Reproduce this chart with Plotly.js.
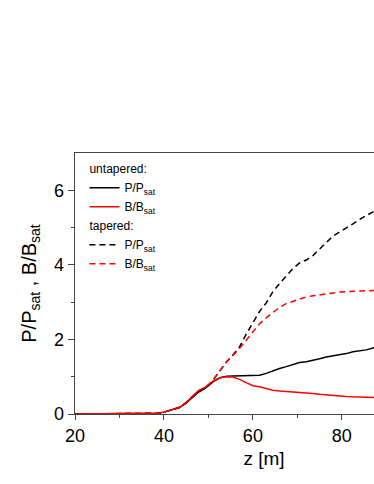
<!DOCTYPE html>
<html>
<head>
<meta charset="utf-8">
<script src="https://cdn.plot.ly/plotly-3.0.1.min.js"></script>
<style>
  html, body { margin: 0; padding: 0; overflow: hidden; background: #fff; }
  #chart { width: 470px; height: 484px; }
</style>
</head>
<body>
<div id="chart"></div>
<script>
// z positions along the undulator [m]
var z = [20, 30, 35, 37, 38.5, 40, 42, 43.6, 45, 46.6, 47.7, 49.2, 50, 51.1, 52.6, 54.1, 55.5, 57, 58.5, 60,
  61.5, 63, 64.5, 66, 67.5, 69, 70.5, 72, 73.5, 75, 76.5, 78, 79.5, 81, 82.5, 84, 85.5, 87, 88.5];

// untapered
var pUntapered = [0, 0, 0, 0.005, 0.02, 0.05, 0.12, 0.18, 0.30, 0.47, 0.58, 0.68, 0.76, 0.87, 0.97, 1.01, 1.02, 1.02, 1.03, 1.03,
  1.04, 1.09, 1.16, 1.22, 1.27, 1.33, 1.38, 1.40, 1.43, 1.48, 1.53, 1.56, 1.58, 1.62, 1.67, 1.69, 1.72, 1.77, 1.80];
var bUntapered = [0, 0, 0, 0.005, 0.02, 0.05, 0.12, 0.18, 0.31, 0.50, 0.62, 0.71, 0.78, 0.89, 0.97, 1.00, 0.99, 0.93, 0.84, 0.76,
  0.73, 0.68, 0.64, 0.62, 0.61, 0.59, 0.57, 0.56, 0.55, 0.53, 0.51, 0.49, 0.48, 0.47, 0.46, 0.45, 0.44, 0.44, 0.44];

// tapered
var pTapered = [0, 0, 0, 0.005, 0.02, 0.05, 0.12, 0.18, 0.30, 0.48, 0.60, 0.70, 0.77, 0.92, 1.15, 1.40, 1.58, 1.80, 2.14, 2.45,
  2.75, 2.98, 3.28, 3.50, 3.70, 3.90, 4.05, 4.13, 4.25, 4.43, 4.60, 4.77, 4.88, 4.98, 5.10, 5.22, 5.33, 5.42, 5.48];
var bTapered = [0, 0, 0, 0.005, 0.02, 0.05, 0.12, 0.18, 0.31, 0.50, 0.62, 0.71, 0.78, 0.92, 1.15, 1.40, 1.57, 1.76, 1.98, 2.20,
  2.42, 2.58, 2.72, 2.86, 2.96, 3.02, 3.09, 3.14, 3.17, 3.20, 3.23, 3.25, 3.27, 3.28, 3.29, 3.30, 3.31, 3.32, 3.32];

var xTicks = [20, 40, 60, 80];
var yTicks = [0, 2, 4, 6];

var font = "Liberation Sans, Arial, sans-serif";
var groupTitleFont = {family: font, size: 12, color: "#000"};

var traces = [
  {x: z, y: pUntapered, name: "P/P<sub>sat</sub>", mode: "lines", line: {color: "#000", width: 1.5},
   legendgroup: "u", legendgrouptitle: {text: "untapered:", font: groupTitleFont}},
  {x: z, y: bUntapered, name: "B/B<sub>sat</sub>", mode: "lines", line: {color: "#ff0000", width: 1.5},
   legendgroup: "u"},
  {x: z, y: pTapered, name: "P/P<sub>sat</sub>", mode: "lines", line: {color: "#000", width: 1.5, dash: "6px,4px"},
   legendgroup: "t", legendgrouptitle: {text: "tapered:", font: groupTitleFont}},
  {x: z, y: bTapered, name: "B/B<sub>sat</sub>", mode: "lines", line: {color: "#ff0000", width: 1.5, dash: "6px,4px"},
   legendgroup: "t"}
];

var layout = {
  width: 470,
  height: 484,
  margin: {l: 75, r: 17, t: 153, b: 70},
  paper_bgcolor: "#fff",
  plot_bgcolor: "#fff",
  font: {family: font, color: "#000"},
  showlegend: true,
  legend: {
    x: 0.025, y: 0.995, xanchor: "left", yanchor: "top",
    bgcolor: "rgba(0,0,0,0)", font: {size: 12},
    traceorder: "grouped", tracegroupgap: 0
  },
  xaxis: {
    range: [20, 105], tickvals: xTicks, ticks: "outside", ticklen: 5, tickwidth: 1,
    minor: {tickvals: [30, 50, 70], ticks: "outside", ticklen: 3},
    showline: true, linecolor: "#444", linewidth: 1.3, mirror: true, showgrid: false, zeroline: false,
    tickfont: {size: 18},
    title: {text: "z [m]", font: {size: 19}, standoff: 6}
  },
  yaxis: {
    range: [0, 7], tickvals: yTicks, ticks: "outside", ticklen: 6, tickwidth: 1,
    minor: {tickvals: [1, 3, 5], ticks: "outside", ticklen: 3},
    showline: true, linecolor: "#444", linewidth: 1.3, mirror: true, showgrid: false, zeroline: false,
    tickfont: {size: 18},
    title: {text: "P/P<sub>sat</sub> , B/B<sub>sat</sub>", font: {size: 20}, standoff: 12}
  }
};

Plotly.newPlot("chart", traces, layout, {displayModeBar: false, staticPlot: true});
</script>
</body>
</html>
